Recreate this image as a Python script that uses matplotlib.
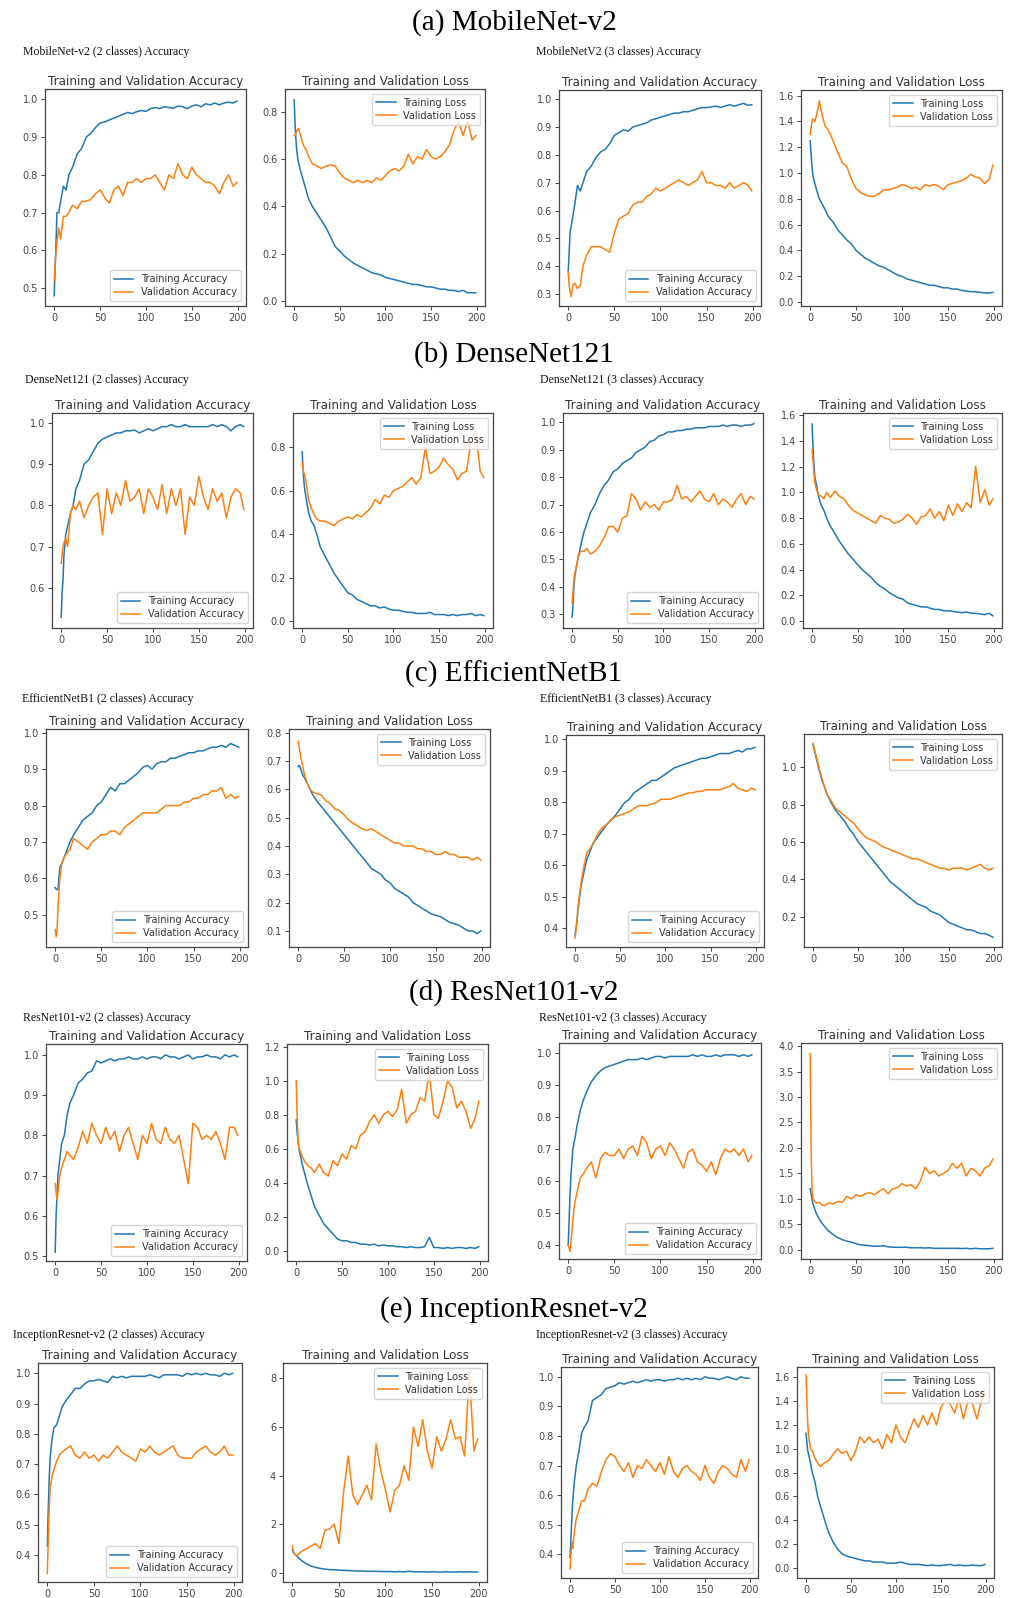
import matplotlib
matplotlib.use("Agg")
import matplotlib.pyplot as plt

W, H = 1013, 1598

EPOCHS = [0, 1, 2, 3, 5, 7, 10, 13, 16, 20,
          25, 30, 35, 40, 45, 50, 55, 60, 65, 70,
          75, 80, 85, 90, 95, 100, 105, 110, 115, 120,
          125, 130, 135, 140, 145, 150, 155, 160, 165, 170,
          175, 180, 185, 190, 195, 199]

ROW_TITLES = ["(a) MobileNet-v2", "(b) DenseNet121", "(c) EfficientNetB1",
              "(d) ResNet101-v2", "(e) InceptionResnet-v2"]
SUB_TITLES = [("MobileNet-v2 (2 classes) Accuracy", "MobileNetV2 (3 classes) Accuracy"),
              ("DenseNet121 (2 classes) Accuracy", "DenseNet121 (3 classes) Accuracy"),
              ("EfficientNetB1 (2 classes) Accuracy", "EfficientNetB1 (3 classes) Accuracy"),
              ("ResNet101-v2 (2 classes) Accuracy", "ResNet101-v2 (3 classes) Accuracy"),
              ("InceptionResnet-v2 (2 classes) Accuracy", "InceptionResnet-v2 (3 classes) Accuracy")]

# ---------------- (a) MobileNet-v2 ----------------
mob2_acc_train = [0.48, 0.55, 0.62, 0.70, 0.70, 0.73, 0.77, 0.76, 0.80, 0.82,
                  0.855, 0.87, 0.90, 0.91, 0.925, 0.937, 0.94, 0.945, 0.95, 0.955,
                  0.96, 0.965, 0.962, 0.967, 0.97, 0.968, 0.975, 0.978, 0.975, 0.98,
                  0.978, 0.976, 0.982, 0.98, 0.975, 0.982, 0.985, 0.98, 0.988, 0.985,
                  0.99, 0.985, 0.99, 0.992, 0.99, 0.995]
mob2_acc_val = [0.52, 0.56, 0.60, 0.62, 0.66, 0.63, 0.69, 0.69, 0.70, 0.72,
                0.71, 0.73, 0.73, 0.735, 0.75, 0.76, 0.74, 0.725, 0.76, 0.77,
                0.745, 0.78, 0.78, 0.79, 0.78, 0.79, 0.79, 0.80, 0.78, 0.76,
                0.80, 0.79, 0.83, 0.80, 0.79, 0.82, 0.80, 0.79, 0.78, 0.78,
                0.77, 0.75, 0.78, 0.80, 0.77, 0.78]
mob2_loss_train = [0.85, 0.75, 0.68, 0.63, 0.58, 0.55, 0.51, 0.47, 0.43, 0.40,
                   0.37, 0.34, 0.31, 0.27, 0.23, 0.21, 0.19, 0.175, 0.16, 0.15,
                   0.14, 0.13, 0.12, 0.115, 0.11, 0.10, 0.095, 0.09, 0.085, 0.08,
                   0.075, 0.07, 0.07, 0.065, 0.06, 0.06, 0.055, 0.05, 0.05, 0.045,
                   0.045, 0.04, 0.045, 0.035, 0.035, 0.035]
mob2_loss_val = [0.70, 0.70, 0.71, 0.72, 0.73, 0.70, 0.66, 0.64, 0.61, 0.58,
                 0.57, 0.56, 0.57, 0.575, 0.57, 0.54, 0.52, 0.51, 0.50, 0.51,
                 0.50, 0.51, 0.50, 0.52, 0.51, 0.53, 0.55, 0.56, 0.55, 0.57,
                 0.62, 0.58, 0.61, 0.60, 0.64, 0.61, 0.60, 0.61, 0.63, 0.66,
                 0.72, 0.76, 0.70, 0.76, 0.68, 0.70]
mob3_acc_train = [0.38, 0.45, 0.52, 0.54, 0.58, 0.62, 0.69, 0.67, 0.70, 0.74,
                  0.76, 0.79, 0.81, 0.82, 0.84, 0.87, 0.88, 0.89, 0.885, 0.90,
                  0.905, 0.91, 0.915, 0.925, 0.93, 0.935, 0.94, 0.945, 0.95, 0.95,
                  0.955, 0.955, 0.96, 0.965, 0.97, 0.97, 0.972, 0.975, 0.97, 0.975,
                  0.98, 0.975, 0.98, 0.985, 0.978, 0.98]
mob3_acc_val = [0.38, 0.33, 0.31, 0.29, 0.33, 0.34, 0.32, 0.33, 0.40, 0.44,
                0.47, 0.47, 0.47, 0.46, 0.45, 0.52, 0.57, 0.58, 0.59, 0.62,
                0.63, 0.63, 0.65, 0.66, 0.68, 0.67, 0.68, 0.69, 0.70, 0.71,
                0.70, 0.69, 0.70, 0.71, 0.74, 0.70, 0.70, 0.69, 0.69, 0.68,
                0.70, 0.68, 0.69, 0.70, 0.69, 0.67]
mob3_loss_train = [1.25, 1.15, 1.05, 0.98, 0.92, 0.87, 0.80, 0.76, 0.72, 0.66,
                   0.62, 0.56, 0.52, 0.48, 0.45, 0.40, 0.37, 0.34, 0.32, 0.30,
                   0.28, 0.27, 0.25, 0.23, 0.21, 0.20, 0.18, 0.17, 0.16, 0.15,
                   0.14, 0.13, 0.13, 0.12, 0.11, 0.11, 0.10, 0.10, 0.09, 0.085,
                   0.08, 0.08, 0.075, 0.07, 0.07, 0.075]
mob3_loss_val = [1.30, 1.35, 1.40, 1.42, 1.40, 1.45, 1.56, 1.45, 1.37, 1.33,
                 1.25, 1.16, 1.08, 1.05, 0.95, 0.88, 0.85, 0.83, 0.82, 0.82,
                 0.84, 0.87, 0.87, 0.88, 0.89, 0.91, 0.90, 0.88, 0.89, 0.87,
                 0.91, 0.90, 0.91, 0.90, 0.87, 0.91, 0.92, 0.93, 0.94, 0.96,
                 0.99, 0.97, 0.96, 0.92, 0.95, 1.06]

# ---------------- (b) DenseNet121 ----------------
dn2_acc_train = [0.53, 0.59, 0.62, 0.68, 0.73, 0.75, 0.78, 0.80, 0.84, 0.86,
                 0.90, 0.91, 0.93, 0.95, 0.96, 0.965, 0.97, 0.975, 0.975, 0.98,
                 0.98, 0.982, 0.975, 0.98, 0.985, 0.98, 0.985, 0.99, 0.99, 0.995,
                 0.99, 0.99, 0.995, 0.99, 0.99, 0.99, 0.99, 0.99, 0.995, 0.99,
                 0.995, 0.99, 0.98, 0.99, 0.995, 0.99]
dn2_acc_val = [0.66, 0.68, 0.70, 0.71, 0.72, 0.70, 0.78, 0.80, 0.79, 0.81,
               0.77, 0.80, 0.82, 0.83, 0.73, 0.84, 0.78, 0.83, 0.80, 0.86,
               0.81, 0.82, 0.84, 0.78, 0.84, 0.82, 0.79, 0.85, 0.78, 0.84,
               0.80, 0.84, 0.73, 0.82, 0.80, 0.87, 0.82, 0.79, 0.84, 0.81,
               0.83, 0.77, 0.82, 0.84, 0.83, 0.79]
dn2_loss_train = [0.78, 0.70, 0.64, 0.60, 0.55, 0.50, 0.46, 0.44, 0.40, 0.34,
                  0.30, 0.26, 0.22, 0.19, 0.16, 0.13, 0.12, 0.10, 0.09, 0.08,
                  0.07, 0.07, 0.06, 0.065, 0.055, 0.05, 0.05, 0.045, 0.04, 0.04,
                  0.035, 0.035, 0.035, 0.04, 0.03, 0.03, 0.03, 0.025, 0.03, 0.025,
                  0.03, 0.03, 0.035, 0.025, 0.03, 0.025]
dn2_loss_val = [0.73, 0.70, 0.68, 0.67, 0.62, 0.56, 0.52, 0.49, 0.47, 0.46,
                0.46, 0.45, 0.44, 0.46, 0.47, 0.48, 0.47, 0.49, 0.48, 0.50,
                0.52, 0.56, 0.54, 0.58, 0.57, 0.60, 0.61, 0.62, 0.64, 0.66,
                0.63, 0.66, 0.80, 0.68, 0.69, 0.71, 0.75, 0.72, 0.70, 0.65,
                0.68, 0.69, 0.83, 0.88, 0.69, 0.66]
dn3_acc_train = [0.29, 0.34, 0.40, 0.44, 0.48, 0.51, 0.56, 0.60, 0.63, 0.67,
                 0.70, 0.74, 0.77, 0.79, 0.82, 0.83, 0.85, 0.86, 0.87, 0.89,
                 0.90, 0.91, 0.93, 0.935, 0.95, 0.955, 0.965, 0.965, 0.97, 0.97,
                 0.975, 0.975, 0.98, 0.98, 0.98, 0.985, 0.985, 0.985, 0.99, 0.985,
                 0.99, 0.99, 0.985, 0.99, 0.99, 0.995]
dn3_acc_val = [0.34, 0.38, 0.43, 0.45, 0.48, 0.52, 0.53, 0.53, 0.54, 0.52,
               0.53, 0.55, 0.58, 0.62, 0.62, 0.60, 0.65, 0.66, 0.74, 0.72,
               0.68, 0.71, 0.69, 0.70, 0.68, 0.71, 0.71, 0.72, 0.77, 0.72,
               0.73, 0.71, 0.73, 0.75, 0.72, 0.71, 0.74, 0.70, 0.72, 0.71,
               0.69, 0.72, 0.74, 0.70, 0.73, 0.72]
dn3_loss_train = [1.53, 1.35, 1.22, 1.12, 1.05, 0.97, 0.90, 0.86, 0.80, 0.74,
                  0.68, 0.62, 0.57, 0.52, 0.48, 0.44, 0.40, 0.37, 0.34, 0.30,
                  0.27, 0.25, 0.22, 0.20, 0.18, 0.17, 0.14, 0.13, 0.12, 0.11,
                  0.11, 0.10, 0.09, 0.09, 0.08, 0.08, 0.075, 0.07, 0.065, 0.07,
                  0.06, 0.06, 0.055, 0.05, 0.06, 0.04]
dn3_loss_val = [1.33, 1.25, 1.15, 1.07, 1.02, 0.98, 0.97, 0.95, 1.00, 0.96,
                1.01, 0.97, 0.95, 0.90, 0.86, 0.84, 0.82, 0.80, 0.78, 0.76,
                0.82, 0.80, 0.79, 0.76, 0.77, 0.79, 0.83, 0.80, 0.75, 0.81,
                0.82, 0.87, 0.80, 0.85, 0.78, 0.90, 0.82, 0.91, 0.85, 0.92,
                0.88, 1.20, 0.92, 1.02, 0.90, 0.95]

# ---------------- (c) EfficientNetB1 ----------------
ef2_acc_train = [0.575, 0.57, 0.57, 0.57, 0.63, 0.64, 0.66, 0.68, 0.70, 0.72,
                 0.74, 0.76, 0.77, 0.78, 0.80, 0.81, 0.83, 0.85, 0.84, 0.86,
                 0.86, 0.87, 0.88, 0.89, 0.905, 0.91, 0.90, 0.915, 0.92, 0.92,
                 0.93, 0.93, 0.935, 0.94, 0.945, 0.945, 0.95, 0.95, 0.955, 0.96,
                 0.96, 0.965, 0.96, 0.97, 0.965, 0.96]
ef2_acc_val = [0.46, 0.44, 0.46, 0.52, 0.60, 0.64, 0.66, 0.67, 0.68, 0.71,
               0.70, 0.69, 0.68, 0.70, 0.71, 0.72, 0.72, 0.73, 0.73, 0.72,
               0.74, 0.75, 0.76, 0.77, 0.78, 0.78, 0.78, 0.78, 0.79, 0.80,
               0.80, 0.80, 0.80, 0.81, 0.81, 0.82, 0.82, 0.83, 0.83, 0.84,
               0.84, 0.85, 0.82, 0.83, 0.82, 0.825]
ef2_loss_train = [0.68, 0.685, 0.68, 0.67, 0.65, 0.64, 0.62, 0.60, 0.58, 0.56,
                  0.54, 0.52, 0.50, 0.48, 0.46, 0.44, 0.42, 0.40, 0.38, 0.36,
                  0.34, 0.32, 0.31, 0.30, 0.28, 0.27, 0.25, 0.24, 0.23, 0.22,
                  0.20, 0.19, 0.18, 0.17, 0.16, 0.155, 0.15, 0.14, 0.13, 0.125,
                  0.12, 0.11, 0.10, 0.10, 0.09, 0.10]
ef2_loss_val = [0.77, 0.75, 0.73, 0.71, 0.68, 0.65, 0.62, 0.60, 0.59, 0.585,
                0.58, 0.56, 0.55, 0.53, 0.525, 0.51, 0.49, 0.48, 0.47, 0.46,
                0.455, 0.46, 0.45, 0.44, 0.43, 0.42, 0.41, 0.41, 0.40, 0.40,
                0.40, 0.39, 0.39, 0.38, 0.38, 0.37, 0.37, 0.38, 0.37, 0.37,
                0.36, 0.36, 0.36, 0.35, 0.36, 0.35]
ef3_acc_train = [0.38, 0.40, 0.42, 0.45, 0.50, 0.54, 0.58, 0.62, 0.64, 0.67,
                 0.69, 0.71, 0.73, 0.745, 0.76, 0.78, 0.80, 0.81, 0.83, 0.84,
                 0.85, 0.86, 0.87, 0.87, 0.88, 0.89, 0.90, 0.91, 0.915, 0.92,
                 0.925, 0.93, 0.935, 0.94, 0.94, 0.945, 0.95, 0.955, 0.955, 0.955,
                 0.96, 0.965, 0.96, 0.97, 0.97, 0.975]
ef3_acc_val = [0.37, 0.39, 0.42, 0.46, 0.51, 0.55, 0.60, 0.64, 0.65, 0.67,
               0.70, 0.72, 0.73, 0.745, 0.755, 0.76, 0.765, 0.77, 0.78, 0.79,
               0.79, 0.79, 0.795, 0.80, 0.81, 0.81, 0.81, 0.815, 0.82, 0.825,
               0.83, 0.83, 0.835, 0.835, 0.84, 0.84, 0.84, 0.84, 0.845, 0.85,
               0.86, 0.845, 0.84, 0.835, 0.845, 0.84]
ef3_loss_train = [1.12, 1.10, 1.08, 1.06, 1.02, 0.98, 0.93, 0.89, 0.85, 0.81,
                  0.77, 0.74, 0.71, 0.67, 0.64, 0.60, 0.57, 0.54, 0.51, 0.48,
                  0.45, 0.42, 0.39, 0.37, 0.35, 0.33, 0.31, 0.29, 0.27, 0.26,
                  0.25, 0.23, 0.22, 0.21, 0.19, 0.17, 0.16, 0.15, 0.14, 0.13,
                  0.13, 0.12, 0.11, 0.11, 0.10, 0.09]
ef3_loss_val = [1.13, 1.11, 1.09, 1.07, 1.03, 0.99, 0.94, 0.89, 0.85, 0.82,
                0.78, 0.76, 0.74, 0.72, 0.70, 0.67, 0.64, 0.62, 0.61, 0.60,
                0.58, 0.57, 0.56, 0.55, 0.54, 0.53, 0.52, 0.51, 0.51, 0.50,
                0.49, 0.48, 0.47, 0.46, 0.46, 0.45, 0.46, 0.46, 0.46, 0.45,
                0.46, 0.47, 0.48, 0.46, 0.45, 0.46]

# ---------------- (d) ResNet101-v2 ----------------
rn2_acc_train = [0.51, 0.60, 0.65, 0.70, 0.74, 0.78, 0.80, 0.85, 0.88, 0.90,
                 0.93, 0.94, 0.955, 0.96, 0.985, 0.98, 0.985, 0.99, 0.985, 0.99,
                 0.99, 0.995, 0.99, 0.99, 0.995, 0.99, 0.995, 0.995, 0.99, 1.0,
                 0.995, 0.995, 0.99, 0.995, 1.0, 0.99, 0.995, 0.995, 1.0, 0.995,
                 0.995, 0.99, 1.0, 0.995, 1.0, 0.995]
rn2_acc_val = [0.68, 0.66, 0.64, 0.66, 0.70, 0.72, 0.74, 0.76, 0.75, 0.74,
               0.77, 0.81, 0.78, 0.83, 0.80, 0.78, 0.82, 0.79, 0.81, 0.76,
               0.80, 0.82, 0.78, 0.74, 0.80, 0.78, 0.83, 0.79, 0.78, 0.82,
               0.79, 0.78, 0.80, 0.74, 0.68, 0.83, 0.82, 0.79, 0.80, 0.79,
               0.81, 0.78, 0.74, 0.82, 0.82, 0.80]
rn2_loss_train = [0.77, 0.70, 0.65, 0.60, 0.55, 0.50, 0.44, 0.38, 0.33, 0.26,
                  0.21, 0.16, 0.13, 0.10, 0.07, 0.06, 0.06, 0.05, 0.05, 0.04,
                  0.04, 0.035, 0.04, 0.03, 0.035, 0.03, 0.03, 0.025, 0.025, 0.02,
                  0.025, 0.02, 0.02, 0.025, 0.08, 0.02, 0.02, 0.015, 0.02, 0.015,
                  0.02, 0.02, 0.015, 0.02, 0.015, 0.025]
rn2_loss_val = [1.00, 0.80, 0.65, 0.60, 0.58, 0.55, 0.52, 0.50, 0.49, 0.46,
                0.51, 0.46, 0.44, 0.53, 0.50, 0.57, 0.54, 0.62, 0.60, 0.68,
                0.70, 0.76, 0.80, 0.75, 0.80, 0.82, 0.79, 0.83, 0.95, 0.75,
                0.80, 0.82, 0.90, 0.88, 1.05, 0.80, 0.78, 0.88, 1.00, 0.96,
                0.84, 0.88, 0.82, 0.72, 0.78, 0.88]
rn3_acc_train = [0.40, 0.48, 0.56, 0.62, 0.70, 0.73, 0.78, 0.82, 0.85, 0.88,
                 0.91, 0.93, 0.945, 0.955, 0.96, 0.965, 0.97, 0.975, 0.98, 0.98,
                 0.98, 0.985, 0.98, 0.985, 0.99, 0.99, 0.985, 0.99, 0.99, 0.99,
                 0.99, 0.99, 0.995, 0.99, 0.995, 0.99, 0.99, 0.995, 0.99, 0.995,
                 0.995, 0.995, 0.99, 0.995, 0.99, 0.995]
rn3_acc_val = [0.40, 0.39, 0.38, 0.41, 0.48, 0.53, 0.57, 0.61, 0.62, 0.64,
               0.66, 0.61, 0.67, 0.69, 0.68, 0.68, 0.70, 0.67, 0.70, 0.71,
               0.68, 0.74, 0.72, 0.67, 0.70, 0.71, 0.68, 0.72, 0.70, 0.67,
               0.64, 0.69, 0.70, 0.66, 0.65, 0.63, 0.66, 0.62, 0.67, 0.70,
               0.69, 0.70, 0.68, 0.70, 0.66, 0.68]
rn3_loss_train = [1.20, 1.10, 1.00, 0.90, 0.80, 0.70, 0.60, 0.52, 0.45, 0.37,
                  0.30, 0.24, 0.20, 0.17, 0.15, 0.12, 0.10, 0.09, 0.08, 0.07,
                  0.07, 0.08, 0.06, 0.05, 0.05, 0.05, 0.05, 0.04, 0.04, 0.04,
                  0.035, 0.04, 0.03, 0.03, 0.03, 0.03, 0.03, 0.03, 0.025, 0.03,
                  0.02, 0.03, 0.02, 0.02, 0.02, 0.03]
rn3_loss_val = [3.85, 2.00, 1.20, 1.00, 0.95, 0.92, 0.93, 0.88, 0.87, 0.92,
                0.90, 0.95, 0.93, 1.05, 1.00, 1.08, 1.05, 1.10, 1.12, 1.08,
                1.15, 1.20, 1.10, 1.20, 1.22, 1.30, 1.25, 1.28, 1.20, 1.35,
                1.62, 1.50, 1.55, 1.45, 1.50, 1.55, 1.70, 1.60, 1.70, 1.45,
                1.60, 1.55, 1.45, 1.60, 1.65, 1.78]

# ---------------- (e) InceptionResnet-v2 ----------------
ir2_acc_train = [0.43, 0.55, 0.65, 0.72, 0.78, 0.82, 0.83, 0.86, 0.89, 0.91,
                 0.93, 0.95, 0.95, 0.965, 0.975, 0.975, 0.98, 0.975, 0.97, 0.99,
                 0.985, 0.99, 0.985, 0.99, 0.99, 0.99, 0.99, 0.995, 0.99, 0.985,
                 0.995, 0.995, 0.995, 0.995, 0.99, 1.0, 0.995, 1.0, 0.995, 1.0,
                 0.995, 0.995, 0.99, 1.0, 0.995, 1.0]
ir2_acc_val = [0.34, 0.45, 0.55, 0.62, 0.66, 0.68, 0.71, 0.73, 0.74, 0.75,
               0.76, 0.73, 0.72, 0.74, 0.72, 0.73, 0.71, 0.73, 0.72, 0.74,
               0.76, 0.74, 0.73, 0.72, 0.71, 0.75, 0.74, 0.76, 0.74, 0.73,
               0.74, 0.75, 0.76, 0.73, 0.72, 0.72, 0.72, 0.74, 0.75, 0.76,
               0.74, 0.73, 0.74, 0.76, 0.73, 0.73]
ir2_loss_train = [0.95, 0.85, 0.80, 0.75, 0.68, 0.60, 0.50, 0.42, 0.35, 0.28,
                  0.22, 0.18, 0.15, 0.13, 0.12, 0.11, 0.10, 0.09, 0.08, 0.07,
                  0.07, 0.06, 0.06, 0.06, 0.05, 0.05, 0.05, 0.04, 0.05, 0.04,
                  0.06, 0.04, 0.04, 0.04, 0.03, 0.04, 0.03, 0.03, 0.04, 0.03,
                  0.03, 0.04, 0.03, 0.04, 0.03, 0.03]
ir2_loss_val = [1.10, 0.90, 0.80, 0.75, 0.70, 0.78, 0.88, 0.95, 1.00, 1.10,
                1.20, 1.00, 1.75, 1.80, 2.00, 1.20, 3.30, 4.80, 3.20, 2.80,
                3.20, 3.60, 3.00, 5.30, 4.20, 3.40, 2.50, 3.40, 3.60, 4.40,
                3.80, 6.00, 5.20, 6.30, 5.00, 4.30, 5.60, 5.00, 5.50, 6.30,
                5.50, 5.60, 4.80, 8.20, 5.00, 5.50]
ir3_acc_train = [0.39, 0.45, 0.52, 0.58, 0.65, 0.70, 0.75, 0.81, 0.83, 0.85,
                 0.92, 0.93, 0.94, 0.96, 0.965, 0.97, 0.98, 0.975, 0.98, 0.985,
                 0.98, 0.985, 0.99, 0.985, 0.99, 0.99, 0.985, 0.99, 0.99, 0.995,
                 0.99, 0.995, 0.99, 0.995, 0.99, 1.0, 0.995, 0.995, 0.99, 0.995,
                 1.0, 0.995, 0.99, 1.0, 0.995, 0.995]
ir3_acc_val = [0.35, 0.40, 0.44, 0.42, 0.48, 0.52, 0.55, 0.58, 0.58, 0.62,
               0.64, 0.63, 0.68, 0.72, 0.74, 0.73, 0.70, 0.68, 0.71, 0.66,
               0.70, 0.69, 0.72, 0.70, 0.68, 0.71, 0.67, 0.73, 0.68, 0.66,
               0.69, 0.70, 0.68, 0.67, 0.65, 0.70, 0.66, 0.64, 0.68, 0.70,
               0.69, 0.67, 0.66, 0.72, 0.68, 0.72]
ir3_loss_train = [1.13, 1.05, 0.98, 0.95, 0.88, 0.80, 0.72, 0.60, 0.52, 0.42,
                  0.30, 0.22, 0.16, 0.12, 0.10, 0.09, 0.08, 0.07, 0.06, 0.06,
                  0.05, 0.05, 0.05, 0.04, 0.04, 0.04, 0.05, 0.04, 0.03, 0.03,
                  0.03, 0.025, 0.02, 0.025, 0.02, 0.02, 0.025, 0.03, 0.02, 0.025,
                  0.02, 0.02, 0.025, 0.02, 0.02, 0.03]
ir3_loss_val = [1.62, 1.40, 1.20, 1.10, 1.00, 0.98, 0.92, 0.88, 0.85, 0.88,
                0.90, 0.95, 1.00, 0.96, 0.98, 0.90, 0.98, 1.10, 1.05, 1.10,
                1.05, 1.08, 1.00, 1.12, 1.05, 1.20, 1.10, 1.05, 1.15, 1.25,
                1.18, 1.28, 1.20, 1.30, 1.20, 1.35, 1.40, 1.38, 1.30, 1.42,
                1.25, 1.40, 1.38, 1.25, 1.40, 1.50]

ROWS = [
    [mob2_acc_train, mob2_acc_val, mob2_loss_train, mob2_loss_val,
     mob3_acc_train, mob3_acc_val, mob3_loss_train, mob3_loss_val],
    [dn2_acc_train, dn2_acc_val, dn2_loss_train, dn2_loss_val,
     dn3_acc_train, dn3_acc_val, dn3_loss_train, dn3_loss_val],
    [ef2_acc_train, ef2_acc_val, ef2_loss_train, ef2_loss_val,
     ef3_acc_train, ef3_acc_val, ef3_loss_train, ef3_loss_val],
    [rn2_acc_train, rn2_acc_val, rn2_loss_train, rn2_loss_val,
     rn3_acc_train, rn3_acc_val, rn3_loss_train, rn3_loss_val],
    [ir2_acc_train, ir2_acc_val, ir2_loss_train, ir2_loss_val,
     ir3_acc_train, ir3_acc_val, ir3_loss_train, ir3_loss_val],
]
for row in ROWS:
    for s in row:
        assert len(s) == len(EPOCHS), len(s)

# layout (pixels: left, right, top, bottom)
BOXES = [
    [(45, 246, 89, 306), (285, 485, 89, 306), (559, 761, 90, 306), (801, 1002, 90, 306)],
    [(52, 253, 413, 628), (293, 493, 413, 628), (563, 763, 413, 628), (803, 1002, 413, 628)],
    [(46, 248, 729, 947), (289, 490, 729, 947), (566, 764, 735, 947), (804, 1002, 734, 947)],
    [(46, 247, 1044, 1261), (287, 488, 1044, 1261), (559, 761, 1043, 1259), (801, 1002, 1043, 1259)],
    [(38, 242, 1363, 1582), (283, 487, 1363, 1582), (561, 758, 1367, 1578), (797, 994, 1367, 1578)],
]
YLIMS = [
    [(0.453, 1.027), (-0.021, 0.896), (0.257, 1.033), (-0.031, 1.644)],
    [(0.504, 1.023), (-0.032, 0.958), (0.25, 1.034), (-0.054, 1.616)],
    [(0.412, 1.01), (0.043, 0.813), (0.341, 1.014), (0.038, 1.178)],
    [(0.488, 1.027), (-0.059, 1.216), (0.356, 1.032), (-0.18, 4.06)],
    [(0.311, 1.034), (-0.38, 8.63), (0.32, 1.033), (-0.084, 1.686)],
]
ROW_TITLE_Y = [23, 355, 674, 993, 1310]
SUB_POS = [((23, 52), (536, 52)), ((25, 380), (540, 380)), ((22, 699), (540, 699)),
           ((23, 1018), (539, 1018)), ((13, 1335), (536, 1335))]

BLUE, ORANGE = "#1f77b4", "#ff7f0e"
TXT = "#333333"

fig = plt.figure(figsize=(W / 100, H / 100), dpi=100)
fig.patch.set_facecolor("white")

for r in range(5):
    fig.text(514 / W, 1 - ROW_TITLE_Y[r] / H, ROW_TITLES[r], ha="center", va="center",
             fontsize=21, family="Liberation Serif", color="black")
    for k in range(2):
        x, y = SUB_POS[r][k]
        fig.text(x / W, 1 - y / H, SUB_TITLES[r][k], ha="left", va="center",
                 fontsize=8.5, family="Liberation Serif", color="#111111")
    series = ROWS[r]
    for c in range(4):
        l, rr, t, b = BOXES[r][c]
        ax = fig.add_axes([l / W, 1 - b / H, (rr - l) / W, (b - t) / H])
        is_acc = c in (0, 2)
        tr = series[2 * c]
        va = series[2 * c + 1]
        if is_acc:
            ax.plot(EPOCHS, tr, color=BLUE, lw=1.1, label="Training Accuracy")
            ax.plot(EPOCHS, va, color=ORANGE, lw=1.1, label="Validation Accuracy")
            ax.set_title("Training and Validation Accuracy", fontsize=8.6, color=TXT, pad=3)
            ax.legend(loc="lower right", fontsize=7, frameon=True, edgecolor="#cccccc",
                      handlelength=2.0, borderpad=0.4, labelspacing=0.3, labelcolor=TXT)
        else:
            ax.plot(EPOCHS, tr, color=BLUE, lw=1.1, label="Training Loss")
            ax.plot(EPOCHS, va, color=ORANGE, lw=1.1, label="Validation Loss")
            ax.set_title("Training and Validation Loss", fontsize=8.6, color=TXT, pad=3)
            ax.legend(loc="upper right", fontsize=7, frameon=True, edgecolor="#cccccc",
                      handlelength=2.0, borderpad=0.4, labelspacing=0.3, labelcolor=TXT)
        ax.set_xlim(-10, 209)
        ax.set_ylim(*YLIMS[r][c])
        ax.set_xticks([0, 50, 100, 150, 200])
        ax.tick_params(labelsize=7, colors="#444444", length=3, width=0.7, pad=2)
        for sp in ax.spines.values():
            sp.set_color("#444444")
            sp.set_linewidth(0.9)

fig.savefig("out.png", dpi=100, facecolor="white")
